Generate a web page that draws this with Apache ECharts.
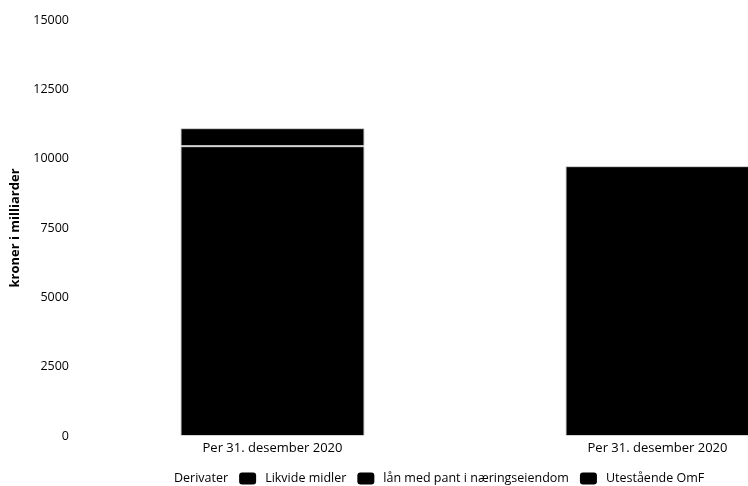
<!DOCTYPE html>
<html>
<head>
<meta charset="utf-8">
<script src="https://cdn.jsdelivr.net/npm/echarts@6/dist/echarts.min.js"></script>
<style>html,body{margin:0;padding:0;background:#fff}#c{width:748px;height:486px}</style>
</head>
<body>
<div id="c"></div>
<script>
const categories = ['Per 31. desember 2020', 'Per 31. desember 2020 '];
const yTicks = [0, 2500, 5000, 7500, 10000, 12500, 15000];
const legendNames = ['Derivater', 'Likvide midler', 'lån med pant i næringseiendom', 'Utestående OmF'];
const derivater = [0, null];
const likvideMidler = [650, null];
const laanNaering = [10450, null];
const utestaaendeOmF = [null, 9730];

const chart = echarts.init(document.getElementById('c'));
const font = '"Open Sans", sans-serif';
const barStyle = (color) => ({ color: color, borderColor: '#d4d4d4', borderWidth: 1 });
chart.setOption({
  animation: false,
  textStyle: { fontFamily: font },
  grid: { left: 80, top: 20, width: 770, height: 416, outerBoundsMode: 'none', containLabel: false },
  legend: {
    data: legendNames,
    left: 143, top: 467,
    itemWidth: 17, itemHeight: 12, itemGap: 11,
    icon: 'roundRect',
    itemStyle: { borderWidth: 0 },
    textStyle: { fontFamily: font, fontSize: 12.5, color: '#000', padding: [0, 0, 0, 4] }
  },
  xAxis: {
    type: 'category', data: categories,
    axisLine: { show: false }, axisTick: { show: false },
    axisLabel: { color: '#000', fontSize: 13, margin: 6,
      formatter: v => v.trim() }
  },
  yAxis: {
    type: 'value', min: 0, max: 15000, interval: 2500,
    name: 'kroner i milliarder', nameLocation: 'middle', nameGap: 58,
    nameTextStyle: { fontWeight: 'bold', fontSize: 13, color: '#000' },
    axisLine: { show: false }, axisTick: { show: false }, splitLine: { show: false },
    axisLabel: { color: '#000', fontSize: 12.5, margin: 11, formatter: v => String(v) }
  },
  series: [
    { name: 'lån med pant i næringseiendom', type: 'bar', stack: 'a', data: laanNaering, barWidth: 184, itemStyle: barStyle('#000') },
    { name: 'Likvide midler', type: 'bar', stack: 'a', data: likvideMidler, barWidth: 184, itemStyle: barStyle('#000') },
    { name: 'Derivater', type: 'bar', stack: 'a', data: derivater, barWidth: 184, itemStyle: { color: '#fff', borderWidth: 0 } },
    { name: 'Utestående OmF', type: 'bar', stack: 'a', data: utestaaendeOmF, barWidth: 184, itemStyle: barStyle('#000') }
  ]
});
</script>
</body>
</html>
